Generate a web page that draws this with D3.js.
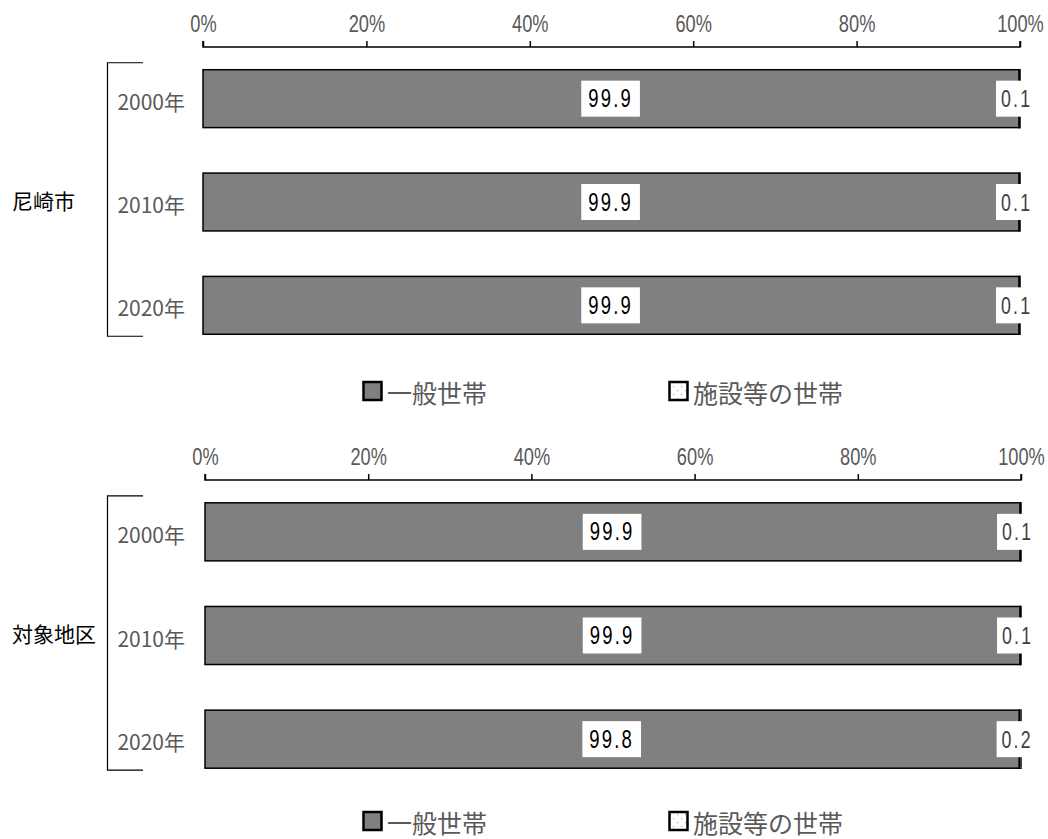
<!DOCTYPE html>
<html>
  <head>
    <meta charset="utf-8" />
    <title>世帯の種類別割合</title>
    <script src="https://cdn.jsdelivr.net/npm/d3@7"></script>
    <style>
      body { margin: 0; background: #fff; }
      .num { font-family: "Liberation Sans", "DejaVu Sans", sans-serif; }
      .jp { font-family: "Noto Sans CJK JP", sans-serif; }
    </style>
  </head>
  <body>
    <svg width="1048" height="839" id="mainsvg"></svg>
    <script>
      // データ
      const years = ["2000年", "2010年", "2020年"];
      const areas = ["尼崎市", "対象地区"];
      const seriesNames = ["一般世帯", "施設等の世帯"];
      const general = [
        [99.9, 99.9, 99.9],
        [99.9, 99.9, 99.8],
      ];
      const facility = [
        [0.1, 0.1, 0.1],
        [0.1, 0.1, 0.2],
      ];
      const tickValues = [0, 20, 40, 60, 80, 100];

      const svg = d3.select("#mainsvg");
      const defs = svg.append("defs");
      const pat = defs
        .append("pattern")
        .attr("id", "dots")
        .attr("width", 8)
        .attr("height", 8)
        .attr("patternUnits", "userSpaceOnUse");
      pat.append("rect").attr("width", 8).attr("height", 8).attr("fill", "#fff");
      pat.append("rect").attr("x", 1).attr("y", 2).attr("width", 1.2).attr("height", 1.2).attr("fill", "#aaa");
      pat.append("rect").attr("x", 5).attr("y", 6).attr("width", 1.2).attr("height", 1.2).attr("fill", "#aaa");

      // パネルの位置 (上: 尼崎市, 下: 対象地区)
      const panels = [
        { x0: 203, x1: 1020, axisY: 47, bottom: 357, legendY: 392 },
        { x0: 205, x1: 1021, axisY: 480, bottom: 791, legendY: 822 },
      ];

      panels.forEach((p, pi) => {
        const g = svg.append("g");
        const x = d3.scaleLinear().domain([0, 100]).range([p.x0, p.x1]);
        const y = d3
          .scaleBand()
          .domain(years)
          .range([p.axisY, p.bottom])
          .paddingInner(0.44)
          .paddingOuter(0.22);

        // 上の軸
        const axis = g
          .append("g")
          .attr("transform", `translate(0,${p.axisY})`)
          .call(
            d3.axisTop(x).tickValues(tickValues).tickSize(6).tickPadding(9)
              .tickFormat((d) => d + "%")
          );
        axis.select(".domain").attr("stroke", "#000").attr("stroke-width", 1.5)
          .attr("d", `M${p.x0},-6V0H${p.x1}V-6`);
        axis.selectAll(".tick line").attr("stroke", "#000").attr("stroke-width", 1.5);
        axis.selectAll(".tick text")
          .attr("class", "num")
          .attr("font-size", 24)
          .attr("transform", "scale(0.76,1)")
          .attr("fill", "#595959");

        const rows = years.map((yr, i) => ({
          year: yr,
          a: general[pi][i],
          b: facility[pi][i],
        }));

        // 一般世帯
        g.selectAll(".barA")
          .data(rows)
          .join("rect")
          .attr("class", "barA")
          .attr("x", x(0))
          .attr("y", (d) => y(d.year))
          .attr("width", (d) => x(d.a) - x(0))
          .attr("height", y.bandwidth())
          .attr("fill", "#808080")
          .attr("stroke", "#000")
          .attr("stroke-width", 1.5);

        // 施設等の世帯
        g.selectAll(".barB")
          .data(rows)
          .join("rect")
          .attr("class", "barB")
          .attr("x", (d) => x(d.a))
          .attr("y", (d) => y(d.year))
          .attr("width", (d) => x(d.a + d.b) - x(d.a))
          .attr("height", y.bandwidth())
          .attr("fill", "url(#dots)")
          .attr("stroke", "#000")
          .attr("stroke-width", 1.5);

        // 値ラベル
        const sx = 0.74;
        const labels = [];
        rows.forEach((d) => {
          labels.push({ cx: x(d.a / 2) - 0.5, cy: y(d.year) + y.bandwidth() / 2, t: d.a.toFixed(1), c: "#000", size: 25, pad: 8 });
          labels.push({ cx: x(d.a + d.b / 2) - 3, cy: y(d.year) + y.bandwidth() / 2, t: d.b.toFixed(1), c: "#404040", size: 24, pad: 6 });
        });
        const lg = g.selectAll(".vlab").data(labels).join("g").attr("class", "vlab");
        lg.append("rect").attr("fill", "#fff");
        lg.append("text")
          .attr("class", "num")
          .attr("text-anchor", "middle")
          .attr("dominant-baseline", "central")
          .attr("font-size", (d) => d.size)
          .attr("letter-spacing", 3)
          .attr("transform", (d) => `translate(${d.cx},${d.cy}) scale(${sx},1)`)
          .attr("fill", (d) => d.c)
          .text((d) => d.t);
        lg.each(function (d) {
          const b = d3.select(this).select("text").node().getBBox();
          const w = (b.width - 3) * sx;
          d3.select(this).select("rect")
            .attr("x", d.cx - w / 2 - d.pad).attr("y", d.cy - 18)
            .attr("width", w + 2 * d.pad).attr("height", 36);
        });

        // 年ラベル
        g.selectAll(".ylab")
          .data(years)
          .join("text")
          .attr("class", "jp")
          .attr("x", 185)
          .attr("y", (d) => y(d) + y.bandwidth() / 2 + 2)
          .attr("text-anchor", "end")
          .attr("dominant-baseline", "central")
          .attr("font-size", 21)
          .attr("fill", "#595959")
          .text((d) => d);

        // 括弧
        const top = y(years[0]) - 7;
        const bot = y(years[2]) + y.bandwidth() + 2;
        g.append("path")
          .attr("d", `M143,${top}H107.5V${bot}H143`)
          .attr("fill", "none")
          .attr("stroke", "#000")
          .attr("stroke-width", 1.2);

        g.append("text")
          .attr("class", "jp")
          .attr("x", 12)
          .attr("y", (top + bot) / 2)
          .attr("dominant-baseline", "central")
          .attr("font-size", 21)
          .attr("fill", "#000")
          .text(areas[pi]);

        // 凡例
        const legendX = [362, 668];
        seriesNames.forEach((name, k) => {
          const lx = legendX[k];
          g.append("rect")
            .attr("x", lx + 1.5)
            .attr("y", p.legendY - 10)
            .attr("width", 18)
            .attr("height", 18)
            .attr("fill", k === 0 ? "#808080" : "url(#dots)")
            .attr("stroke", "#000")
            .attr("stroke-width", 2.5);
          g.append("text")
            .attr("class", "jp")
            .attr("x", lx + 25)
            .attr("y", p.legendY)
            .attr("dominant-baseline", "central")
            .attr("font-size", 25)
            .attr("fill", "#595959")
            .text(name);
        });
      });
    </script>
  </body>
</html>
